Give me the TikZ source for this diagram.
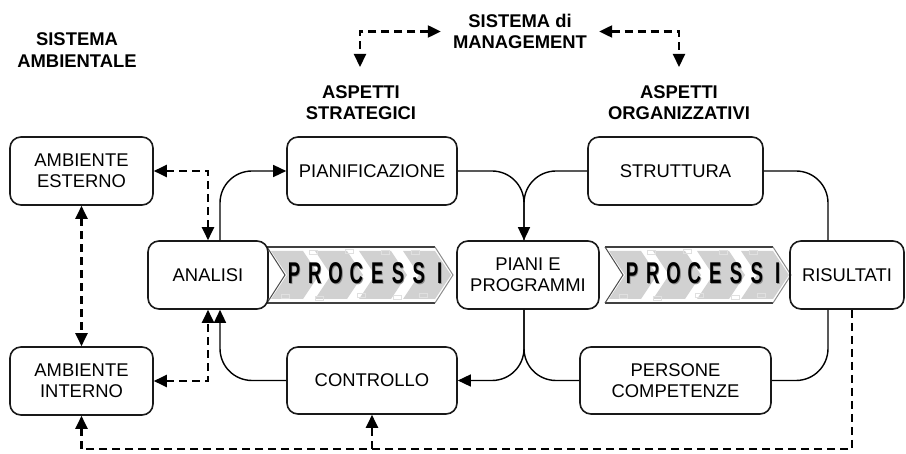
\documentclass[tikz,border=0pt]{standalone}
\usepackage{fontspec}
\setmainfont{Liberation Sans}
\usetikzlibrary{arrows.meta,calc}

\tikzset{
  lbl/.style={font=\fontsize{18.4}{21.5}\selectfont, align=center, inner sep=0pt},
  hdr/.style={font=\fontsize{18.4}{21.5}\selectfont\bfseries, align=center, inner sep=0pt},
  box/.style={draw=black!90, line width=1.6pt, rounded corners=11pt, lbl},
  flow/.style={line width=1.4pt, rounded corners=32pt},
  link/.style={line width=2.1pt, dash pattern=on 8pt off 5pt},
  tip/.style={-{Triangle[length=13pt,width=12pt]}},
  tips/.style={{Triangle[length=13pt,width=12pt]}-{Triangle[length=13pt,width=12pt]}},
  procletter/.style={font=\fontsize{30}{30}\selectfont\bfseries, xscale=0.62, inner sep=0pt},
}

% chevron banner carrying the word PROCESSI, #1 = left edge
\newcommand\procband[1]{%
  \begin{scope}[shift={(#1,0)}]
    \fill[white] (0,247) -- (168,247) -- (186,275) -- (168,303) -- (0,303) -- (18,275) -- cycle;
    \begin{scope}
      \clip (0,247) -- (168,247) -- (186,275) -- (168,303) -- (0,303) -- (18,275) -- cycle;
      \foreach \k in {0,...,3}
        \fill[black!18] ({4+44*\k},251) -- ++(32,0) -- ++(16,24) -- ++(-16,24) -- ++(-32,0) -- ++(16,-24) -- cycle;
      \foreach \p in {(14,294),(48,296),(90,293),(126,295),(152,293),(42,250),(78,249.5),(114,250.5),(144,250)}
        \draw[black!12, line width=0.4pt] \p rectangle ++(8,4);
    \end{scope}
    \draw[line width=2.6pt, black!75] (0,247) -- (168,247);
    \draw[line width=2.6pt, black!75] (0,303) -- (168,303);
    \draw[line width=1pt, black!70] (0,247) -- (18,275) -- (0,303);
    \draw[line width=1pt, black!45] (168,247) -- (186,275) -- (168,303);
    \foreach \c [count=\i from 0] in {P,R,O,C,E,S,S,I} {
      \node[procletter, text=black!45] at ({27.9+20.8*\i},274) {\c};
      \node[procletter] at ({27+20.8*\i},273) {\c};
    }
  \end{scope}}

\begin{document}
\begin{tikzpicture}[x=1pt,y=-1pt]
  \useasboundingbox (0,0) rectangle (906,454);

  % headings
  \node[hdr] (amb)   at (77,50)    {SISTEMA\\AMBIENTALE};
  \node[hdr] (mgmt)  at (520,31.5) {SISTEMA di\\MANAGEMENT};
  \node[hdr] (strat) at (361,102.5) {ASPETTI\\STRATEGICI};
  \node[hdr] (org)   at (679,102.5) {ASPETTI\\ORGANIZZATIVI};

  % process banners
  \procband{267}
  \procband{605}

  % boxes
  \node[box, minimum width=143pt, minimum height=68pt] (ambE)    at (81.5,171)  {AMBIENTE\\ESTERNO};
  \node[box, minimum width=143pt, minimum height=68pt] (ambI)    at (81.5,381)  {AMBIENTE\\INTERNO};
  \node[box, minimum width=120pt, minimum height=68pt] (analisi) at (208,275)   {ANALISI};
  \node[box, minimum width=170pt, minimum height=68pt] (pianif)  at (372,171)   {PIANIFICAZIONE};
  \node[box, minimum width=175pt, minimum height=68pt] (strutt)  at (675.5,171) {STRUTTURA};
  \node[box, minimum width=142pt, minimum height=68pt] (piani)   at (528,275)   {PIANI E\\PROGRAMMI};
  \node[box, minimum width=114pt, minimum height=68pt] (risult)  at (847,275)   {RISULTATI};
  \node[box, minimum width=170pt, minimum height=67pt] (contr)   at (372,380.5) {CONTROLLO};
  \node[box, minimum width=191pt, minimum height=67pt] (persone) at (675.5,380.5) {PERSONE\\COMPETENZE};

  % management links
  \coordinate (sL) at (360,67);
  \coordinate (sR) at (679,67);
  \draw[link, tips] ([xshift=-12pt]mgmt.west) -| (sL);
  \draw[link, tips] ([xshift=12pt]mgmt.east) -| (sR);

  % environment links
  \draw[link, tips] (ambE.east) -| (analisi.north);
  \draw[link, tips] (ambI.east) -| (analisi.south);
  \draw[link, tips] (ambE.south) -- (ambI.north);
  \coordinate (floor) at (0,449);
  \draw[link, tip] ($(risult.south)+(5,0)$) |- (ambI.south |- floor) -- (ambI.south);
  \draw[link, tip] (contr.south |- floor) -- (contr.south);

  % management cycle
  \draw[flow, tip] ($(analisi.north)+(12,0)$) |- (pianif.west);
  \draw[flow, tip] (pianif.east) -| ($(piani.north)+(-4,0)$);
  \draw[flow] (strutt.west) -| ($(piani.north)+(-4,0)$);
  \draw[flow] (strutt.east) -| ($(risult.north)+(-19,0)$);
  \draw[flow] ($(risult.south)+(-19,0)$) |- (persone.east);
  \draw[flow] ($(piani.south)+(-4,0)$) |- (persone.west);
  \draw[flow, tip] ($(piani.south)+(-4,0)$) |- (contr.east);
  \draw[flow, tip] (contr.west) -| ($(analisi.south)+(12,0)$);
\end{tikzpicture}
\end{document}
